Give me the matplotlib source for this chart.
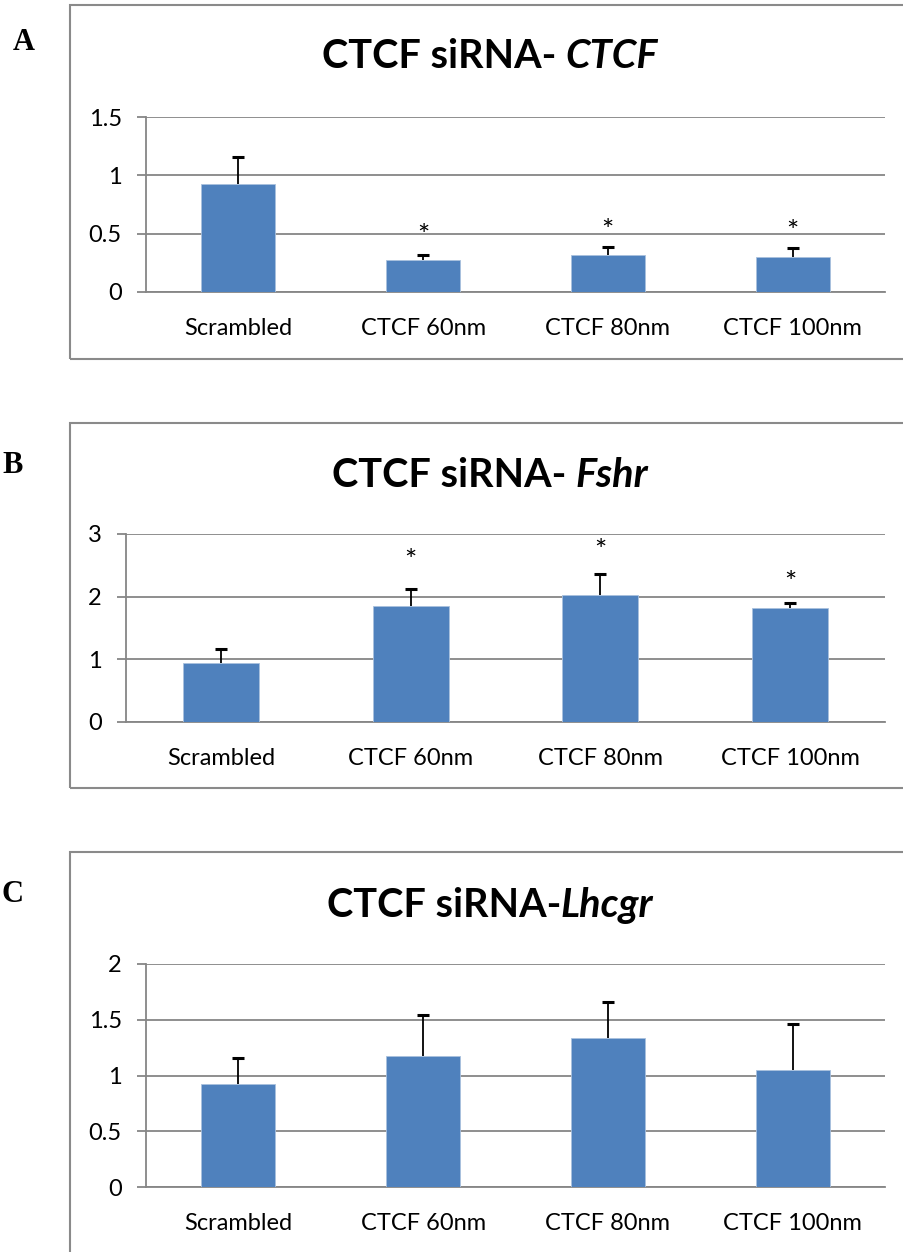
import matplotlib
matplotlib.use("Agg")
import matplotlib.pyplot as plt
from matplotlib.patches import Rectangle
from matplotlib.transforms import offset_copy

# ---------------- data ----------------
categories = ["Scrambled", "CTCF 60nm", "CTCF 80nm", "CTCF 100nm"]

ctcf_mean = [0.93, 0.278, 0.318, 0.304]
ctcf_err = [0.23, 0.037, 0.069, 0.071]
ctcf_star = [None, 0.55, 0.59, 0.58]
ctcf_ticks = [0, 0.5, 1, 1.5]

fshr_mean = [0.934, 1.853, 2.024, 1.815]
fshr_err = [0.23, 0.267, 0.331, 0.091]
fshr_star = [None, 2.70, 2.86, 2.34]
fshr_ticks = [0, 1, 2, 3]

lhcgr_mean = [0.928, 1.174, 1.332, 1.048]
lhcgr_err = [0.228, 0.365, 0.327, 0.410]
lhcgr_star = [None, None, None, None]
lhcgr_ticks = [0, 0.5, 1, 1.5, 2]

panel_letters = ["A", "B", "C"]
title_plain = ["CTCF siRNA-", "CTCF siRNA-", "CTCF siRNA-"]
title_italic = ["CTCF", "Fshr", "Lhcgr"]
title_space = [True, True, False]

# ---------------- layout ----------------
W, H = 904, 1252
fig = plt.figure(figsize=(W / 100, H / 100), dpi=100)

def fx(x):
    return x / W

def fy(y):
    return 1 - y / H

BAR = "#4F81BD"
GRID = "#868686"
FONT = "Lato"
TFS = 28.5
LFS = 17

panels = [
    dict(mean=ctcf_mean, err=ctcf_err, star=ctcf_star, ticks=ctcf_ticks,
         ax=(146, 885, 117, 292), box=(70, 5, 359), title_y=68, letter=(24, 50)),
    dict(mean=fshr_mean, err=fshr_err, star=fshr_star, ticks=fshr_ticks,
         ax=(126, 885, 534, 722), box=(70, 423, 788), title_y=487, letter=(13, 473)),
    dict(mean=lhcgr_mean, err=lhcgr_err, star=lhcgr_star, ticks=lhcgr_ticks,
         ax=(146, 885, 964, 1187), box=(70, 852, 1262), title_y=917, letter=(13, 902)),
]

renderer = fig.canvas.get_renderer()

for i, p in enumerate(panels):
    bx, btop, bbot = p["box"]
    fig.patches.append(Rectangle((fx(bx), fy(bbot)), fx(W + 20 - bx), fy(btop) - fy(bbot),
                                 transform=fig.transFigure, fill=False,
                                 edgecolor="#8a8a8a", linewidth=1.5, zorder=0))
    l, r, t, b = p["ax"]
    ax = fig.add_axes([fx(l), fy(b), fx(r - l), fy(t) - fy(b)])
    x = list(range(len(categories)))
    ax.bar(x, p["mean"], width=0.4, color=BAR, edgecolor="#a9c1de", linewidth=0.6, zorder=3)
    tops = [m + e for m, e in zip(p["mean"], p["err"])]
    ax.vlines(x, p["mean"], tops, color="black", linewidth=1.3, zorder=4)
    ax.plot(x, tops, linestyle="none", marker="_", markersize=9, markeredgewidth=2.2,
            color="black", zorder=4)
    star_tr = offset_copy(ax.transData, fig=fig, x=0, y=-6.5, units="points")
    for xi, s in zip(x, p["star"]):
        if s is not None:
            ax.text(xi, s, "*", ha="center", va="center", fontsize=21, family=FONT,
                    zorder=5, transform=star_tr)
    ax.set_xlim(-0.5, len(x) - 0.5)
    ax.set_ylim(p["ticks"][0], p["ticks"][-1])
    ax.set_yticks(p["ticks"])
    ax.set_yticklabels([f"{v:g}" for v in p["ticks"]])
    ax.set_xticks(x)
    ax.set_xticklabels(categories)
    for sp in ["top", "right"]:
        ax.spines[sp].set_visible(False)
    for sp in ["left", "bottom"]:
        ax.spines[sp].set_color(GRID)
        ax.spines[sp].set_linewidth(1.3)
    ax.yaxis.grid(True, color=GRID, linewidth=1.3, zorder=0)
    ax.set_axisbelow(True)
    ax.tick_params(axis="y", length=6.5, width=1.3, color=GRID, pad=11,
                   labelsize=LFS, labelcolor="black")
    ax.tick_params(axis="x", length=0, pad=18.5, labelsize=LFS, labelcolor="black")
    for lab in ax.get_xticklabels() + ax.get_yticklabels():
        lab.set_family(FONT)
    ax.patch.set_alpha(0)

    # title with mixed bold / bold-italic
    t1 = fig.text(0, fy(p["title_y"]), title_plain[i], fontsize=TFS, fontweight="bold",
                  family=FONT, va="baseline", ha="left")
    t2 = fig.text(0, fy(p["title_y"]), title_italic[i], fontsize=TFS, fontweight="bold",
                  style="italic", family=FONT, va="baseline", ha="left")
    w1 = t1.get_window_extent(renderer).width
    w2 = t2.get_window_extent(renderer).width
    gap = 0
    if title_space[i]:
        ta = fig.text(0, 0, "A A", fontsize=TFS, fontweight="bold", family=FONT)
        tb = fig.text(0, 0, "AA", fontsize=TFS, fontweight="bold", family=FONT)
        gap = ta.get_window_extent(renderer).width - tb.get_window_extent(renderer).width
        ta.remove()
        tb.remove()
    total = w1 + gap + w2
    cx = 490
    x0 = cx - total / 2
    t1.set_x(fx(x0))
    t2.set_x(fx(x0 + w1 + gap))

    lx, ly = p["letter"]
    fig.text(fx(lx), fy(ly), panel_letters[i], fontsize=22, fontweight="bold",
             family="Liberation Serif", ha="center", va="baseline")

fig.savefig("out.png", dpi=100)
